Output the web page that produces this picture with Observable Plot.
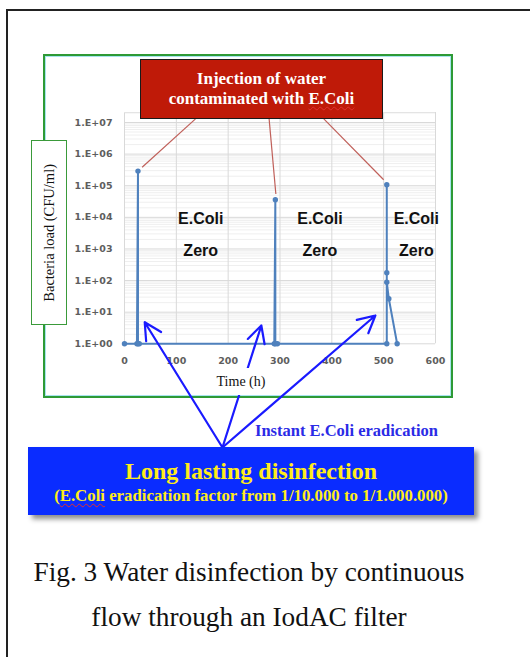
<!DOCTYPE html>
<html><head><meta charset="utf-8">
<script src="https://cdn.jsdelivr.net/npm/d3@7"></script>
<script src="https://cdn.jsdelivr.net/npm/@observablehq/plot@0.6"></script>
<style>
body{margin:0;background:#fff;}
#wrap{position:relative;width:530px;height:657px;overflow:hidden;background:#fff;}
.abs{position:absolute;box-sizing:border-box;}
#topline{left:6px;top:9px;width:524px;height:2px;background:#222;}
#leftline{left:6px;top:9px;width:2px;height:648px;background:#222;}
#gframe{left:43px;top:54px;width:410px;height:344px;border:2px solid #2e9a36;box-shadow:inset 0 0 0 1px #a8e4ee;}
#plot{left:0;top:0;}
#ylab{left:31px;top:140px;width:36px;height:185px;border:1.5px solid #3a9a3a;background:#fff;display:flex;align-items:center;justify-content:center;}
#ylab span{writing-mode:vertical-rl;transform:rotate(180deg);font-family:"Liberation Serif",serif;font-size:14.5px;color:#111;white-space:nowrap;}
#redbox{left:140px;top:59px;width:243px;height:60px;background:#bf1a08;border:1.5px solid #1a1a1a;color:#fff;font-family:"Liberation Serif",serif;font-weight:bold;font-size:17px;line-height:20px;text-align:center;padding-top:9px;}
.sq{text-decoration:underline wavy #e03030;text-decoration-thickness:1px;text-underline-offset:2px;}
#tlab{left:214px;top:368px;width:54px;height:27px;background:#fff;font-family:"Liberation Serif",serif;font-size:14px;color:#111;text-align:center;line-height:27px;}
#instant{left:255px;top:421px;font-family:"Liberation Serif",serif;font-weight:bold;font-size:16.5px;color:#2b2be6;white-space:nowrap;}
#bluebox{left:28px;top:447px;width:446px;height:68px;background:#0a2cff;box-shadow:4px 4px 5px rgba(0,0,0,0.45);color:#ffec1a;font-family:"Liberation Serif",serif;font-weight:bold;text-align:center;}
#bl1{position:absolute;left:0;right:0;top:10px;font-size:24px;line-height:28px;}
#bl2{position:absolute;left:0;right:0;top:39px;font-size:16.8px;line-height:20px;}
#caption{left:7px;top:550px;width:484px;font-family:"Liberation Serif",serif;font-size:27.3px;line-height:45px;color:#111;text-align:center;}
</style></head><body>
<div id="wrap">
  <div class="abs" id="topline"></div>
  <div class="abs" id="leftline"></div>
  <div class="abs" id="gframe"></div>
  <div class="abs" id="plot"></div>
  <div class="abs" id="ylab"><span>Bacteria load (CFU/ml)</span></div>
  <div class="abs" id="redbox">Injection of water<br>contaminated with <span class="sq">E.Coli</span></div>
  <div class="abs" id="tlab">Time (h)</div>
  <div class="abs" id="instant">Instant E.Coli eradication</div>
  <div class="abs" id="bluebox"><div id="bl1">Long lasting disinfection</div><div id="bl2">(<span class="sq">E.Coli</span> eradication factor from 1/10.000 to 1/1.000.000)</div></div>
  <div class="abs" id="caption">Fig. 3 Water disinfection by continuous<br>flow through an IodAC filter</div>
</div>
<script>
// Series (time in hours, bacteria load in CFU/ml)
const time = [0, 24, 26, 26, 28.5, 289, 291, 291, 295, 506, 506, 506, 506, 510, 526];
const load = [1, 1, 2.9e5, 1, 1, 1, 3.6e4, 1, 1, 1, 1.07e5, 176, 89, 26.5, 1];

// Axis ticks
const xTicks = [0, 100, 200, 300, 400, 500, 600];
const yTicks = [1, 10, 100, 1e3, 1e4, 1e5, 1e6, 1e7];
const yTickLabels = ["1.E+00", "1.E+01", "1.E+02", "1.E+03", "1.E+04", "1.E+05", "1.E+06", "1.E+07"];

// "E.Coli Zero" annotations
const zeroX = [147, 377, 563];
const zeroLine1 = "E.Coli";
const zeroLine2 = "Zero";

// Connector lines from the red label to the injection peaks (data coordinates)
const connFromX = [137, 279, 384.5];
const connFromY = [1.3e7, 1.3e7, 1.3e7];
const connToX = [34, 292, 500];
const connToY = [3.85e5, 5.5e4, 1.54e5];

// Blue arrows converging on the "Long lasting disinfection" box (data coordinates)
const arrowFromX = [189, 189, 189];
const arrowFromY = [5.25e-4, 5.25e-4, 5.25e-4];
const arrowToX = [39, 264, 484];
const arrowToY = [4.8, 3.8, 7.85];

const series = time.map((t, i) => ({time: t, load: load[i]}));
const minor = [];
for (let k = 0; k < 7; k++) for (let m = 2; m <= 9; m++) minor.push(m * 10 ** k);
minor.push(2e7);
const yTop = 2.07e7;
const zeros = zeroX.flatMap(x => [{x, y: 8900, t: zeroLine1}, {x, y: 850, t: zeroLine2}]);
const conns = connFromX.map((x, i) => ({x1: x, y1: connFromY[i], x2: connToX[i], y2: connToY[i]}));
const arrows = arrowFromX.map((x, i) => ({x1: x, y1: arrowFromY[i], x2: arrowToX[i], y2: arrowToY[i]}));

const chart = Plot.plot({
  width: 530, height: 530,
  marginLeft: 124, marginRight: 95, marginTop: 112, marginBottom: 186.7,
  style: {background: "transparent", overflow: "visible", fontFamily: "DejaVu Sans", fontSize: "9.5px", fontWeight: "bold", color: "#5e5e5e"},
  x: {domain: [0, 600], ticks: xTicks, tickSize: 0, tickPadding: 13, label: null},
  y: {type: "log", domain: [1, yTop], ticks: yTicks, tickFormat: d => yTickLabels[yTicks.indexOf(d)], tickSize: 0, tickPadding: 12, label: null},
  marks: [
    Plot.ruleY(minor, {stroke: "#efefef", strokeWidth: 1}),
    Plot.ruleY(yTicks, {stroke: "#d9d9d9", strokeWidth: 1}),
    Plot.ruleX(xTicks, {stroke: "#d9d9d9", strokeWidth: 1}),
    Plot.ruleY([yTop], {stroke: "#e4e4e4"}),
    Plot.line(series, {x: "time", y: "load", stroke: "#4f81bd", strokeWidth: 2}),
    Plot.dot(series, {x: "time", y: "load", r: 2.7, fill: "#4f81bd", stroke: "none"}),
    Plot.text(zeros, {x: "x", y: "y", text: "t", fontSize: 16, fontWeight: "bold", fontFamily: "Liberation Sans", fill: "#111"}),
    Plot.link(conns, {x1: "x1", y1: "y1", x2: "x2", y2: "y2", stroke: "#c0605a", strokeWidth: 1.2}),
    Plot.arrow(arrows, {x1: "x1", y1: "y1", x2: "x2", y2: "y2", stroke: "#1a1aff", strokeWidth: 2.2, headLength: 13, headAngle: 55})
  ]
});
document.getElementById("plot").appendChild(chart);
</script>
</body></html>
